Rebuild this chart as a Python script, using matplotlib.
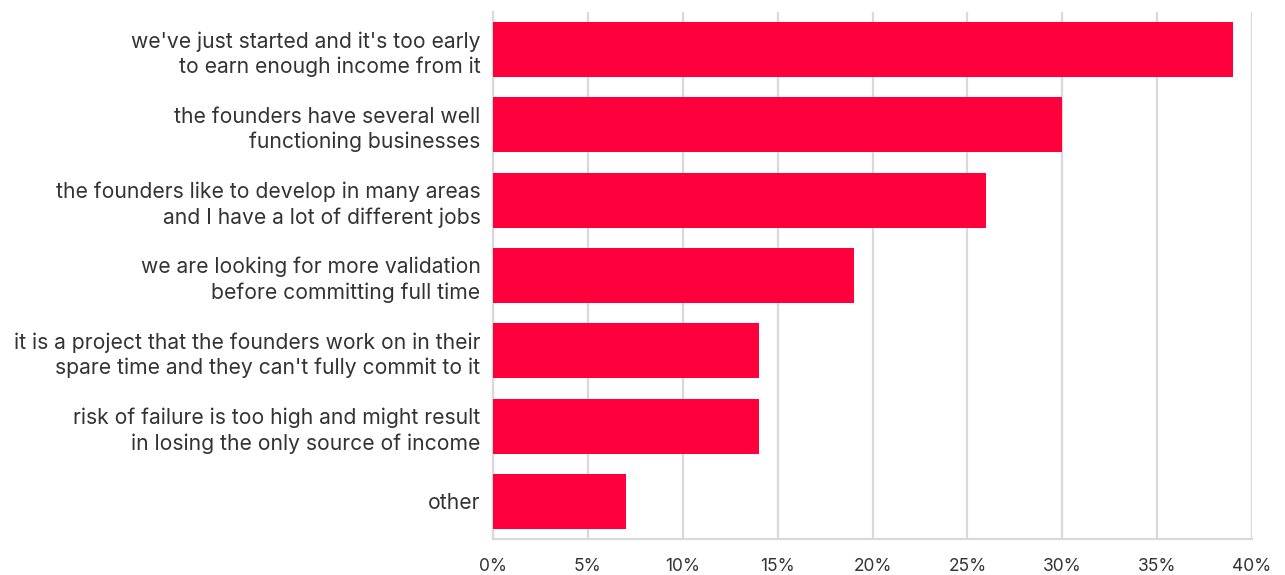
import matplotlib.pyplot as plt
from matplotlib.ticker import FuncFormatter

categories = [
    "we've just started and it's too early\nto earn enough income from it",
    "the founders have several well\nfunctioning businesses",
    "the founders like to develop in many areas\nand I have a lot of different jobs",
    "we are looking for more validation\nbefore committing full time",
    "it is a project that the founders work on in their\nspare time and they can't fully commit to it",
    "risk of failure is too high and might result\nin losing the only source of income",
    "other",
]
shares = [39, 30, 26, 19, 14, 14, 7]
xticks = [0, 5, 10, 15, 20, 25, 30, 35, 40]

plt.rcParams["font.family"] = ["Inter", "DejaVu Sans"]

fig = plt.figure(figsize=(12.85, 5.75), dpi=100)
ax = fig.add_axes([493 / 1285, 36 / 575, 759 / 1285, 527 / 575])

ypos = list(range(len(categories)))
ax.barh(ypos, shares, height=0.73, color="#ff003c", zorder=3)

ax.set_ylim(len(categories) - 0.5, -0.5)
ax.set_xlim(0, 40)
ax.set_xticks(xticks)
ax.xaxis.set_major_formatter(FuncFormatter(lambda v, p: f"{v:.0f}%"))
ax.set_yticks(ypos)
ax.set_yticklabels(categories, ha="right", multialignment="right",
                   linespacing=1.3, fontsize=15.2)

ax.grid(axis="x", color="#d9d9d9", linewidth=1.6, zorder=0)
for side in ["top", "right"]:
    ax.spines[side].set_visible(False)
for side in ["left", "bottom"]:
    ax.spines[side].set_color("#d9d9d9")
    ax.spines[side].set_linewidth(1.6)

ax.tick_params(axis="both", length=0, labelcolor="#333333")
ax.tick_params(axis="y", pad=9)
ax.tick_params(axis="x", pad=14, labelsize=12.5)

fig.savefig("out.png", dpi=100)
